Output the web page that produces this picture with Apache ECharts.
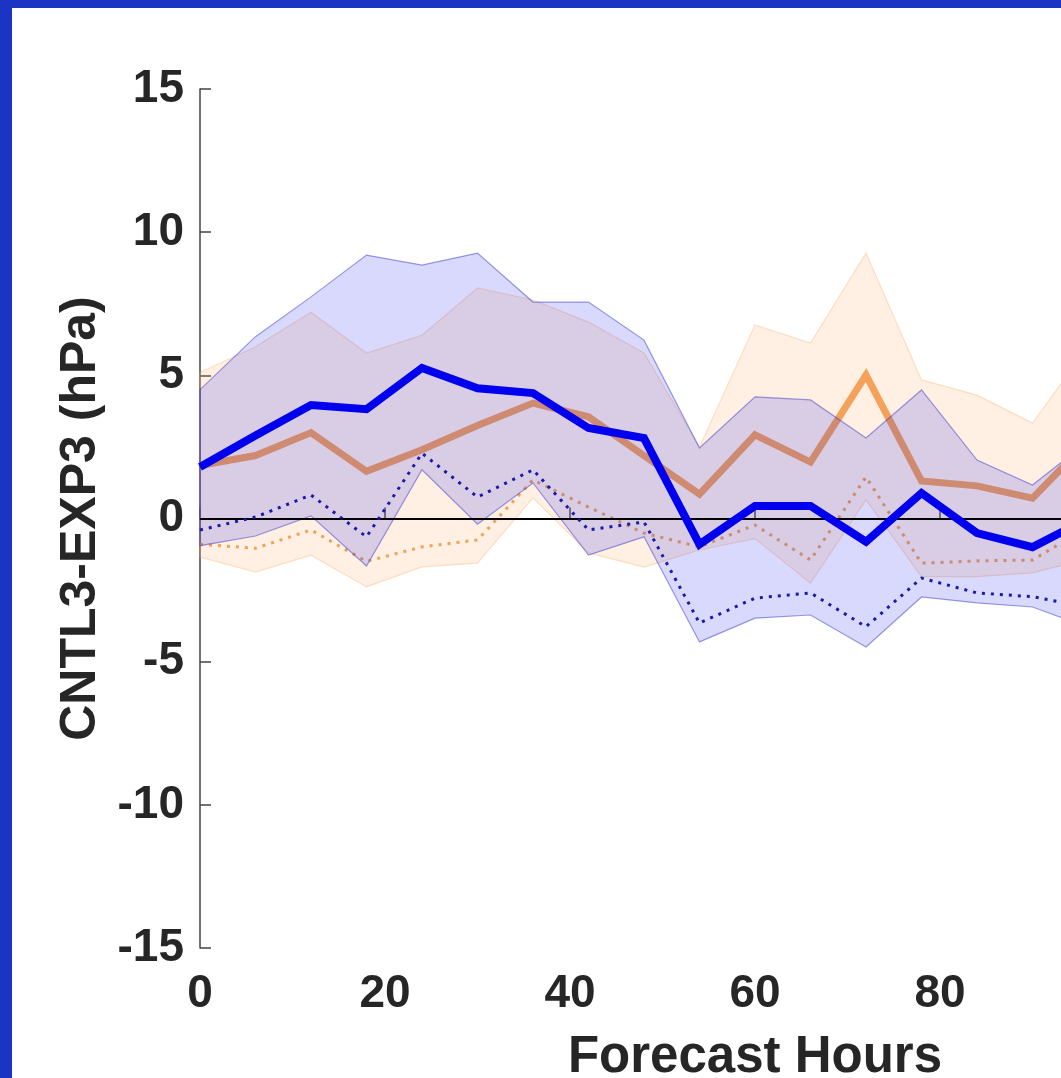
<!DOCTYPE html>
<html>
<head>
<meta charset="utf-8">
<script src="https://cdn.jsdelivr.net/npm/echarts@6/dist/echarts.min.js"></script>
<style>
  html, body { margin: 0; padding: 0; width: 1061px; height: 1078px; overflow: hidden; background: #1b34c4; }
  #chart { position: absolute; left: 12px; top: 8px; width: 1340px; height: 1070px; background: #ffffff; }
</style>
</head>
<body>
<div id="chart"></div>
<script>
// Forecast hours (x)
const hours = [0, 6, 12, 18, 24, 30, 36, 42, 48, 54, 60, 66, 72, 78, 84, 90, 96];
// Blue experiment: mean (thick), dotted line, shaded range
const blueMean   = [1.8, 2.9, 3.96, 3.82, 5.26, 4.55, 4.38, 3.16, 2.81, -0.9, 0.44, 0.44, -0.81, 0.89, -0.51, -1.0, 0.0];
const blueDotted = [-0.4, 0.05, 0.82, -0.64, 2.28, 0.75, 1.7, -0.4, -0.12, -3.65, -2.78, -2.6, -3.78, -2.08, -2.6, -2.73, -3.1];
const blueHi     = [4.5, 6.35, 7.74, 9.2, 8.85, 9.27, 7.56, 7.56, 6.23, 2.46, 4.25, 4.14, 2.81, 4.49, 2.04, 1.17, 2.7];
const blueLo     = [-0.95, -0.61, 0.09, -1.66, 1.7, -0.2, 1.24, -1.28, -0.64, -4.31, -3.48, -3.37, -4.49, -2.74, -2.95, -3.09, -3.8];
// Orange experiment: mean (thick), dotted line, shaded range
const orangeMean   = [1.85, 2.2, 3.0, 1.65, 2.4, 3.25, 4.03, 3.55, 2.2, 0.85, 2.92, 1.97, 5.01, 1.31, 1.14, 0.71, 2.7];
const orangeDotted = [-0.9, -1.04, -0.4, -1.5, -0.99, -0.75, 1.35, 0.4, -0.51, -0.99, -0.23, -1.45, 1.45, -1.56, -1.48, -1.45, -0.3];
const orangeHi     = [5.1, 6.0, 7.2, 5.78, 6.4, 8.05, 7.63, 6.86, 5.78, 2.5, 6.76, 6.13, 9.27, 4.84, 4.31, 3.33, 6.0];
const orangeLo     = [-1.35, -1.87, -1.28, -2.39, -1.69, -1.56, 0.72, -1.2, -1.7, -1.1, -0.7, -2.26, 0.65, -2.03, -2.03, -1.9, -1.4];
// Axis ticks
const xTicks = { min: 0, max: 120, interval: 20 };
const yTicks = { min: -15, max: 15, interval: 5 };

const FONT = "'Liberation Sans', Arial, Helvetica, sans-serif";

function band(lo, hi, fill, stroke, z) {
  return {
    type: 'custom',
    silent: true,
    z: z,
    data: hours.map((h, i) => [h, lo[i], hi[i]]),
    encode: { x: 0, y: [1, 2] },
    renderItem: function (params, api) {
      if (params.dataIndex !== 0) return null;
      const top = hours.map((h, i) => api.coord([h, hi[i]]));
      const bot = hours.map((h, i) => api.coord([h, lo[i]])).reverse();
      return {
        type: 'polygon',
        shape: { points: top.concat(bot) },
        style: { fill: fill, stroke: stroke, lineWidth: 1.2 }
      };
    }
  };
}

function line(vals, color, width, type, z) {
  return {
    type: 'line',
    silent: true,
    z: z,
    symbol: 'none',
    data: hours.map((h, i) => [h, vals[i]]),
    lineStyle: { color: color, width: width, type: type || 'solid', cap: 'butt', join: 'miter' }
  };
}

const chart = echarts.init(document.getElementById('chart'), null, { renderer: 'canvas' });
chart.setOption({
  animation: false,
  backgroundColor: '#ffffff',
  grid: { left: 188, top: 81, width: 1110, height: 859, containLabel: false, outerBoundsMode: 'none' },
  xAxis: {
    type: 'value',
    min: xTicks.min, max: xTicks.max, interval: xTicks.interval,
    name: 'Forecast Hours',
    nameLocation: 'middle',
    nameGap: 84,
    nameTextStyle: { fontFamily: FONT, fontWeight: 'bold', fontSize: 51, color: '#262626' },
    axisLine: { show: true, lineStyle: { color: '#444444', width: 1.5 } },
    axisTick: { show: true, inside: true, length: 11, lineStyle: { color: '#444444', width: 1.5 } },
    axisLabel: { margin: 23, fontFamily: FONT, fontWeight: 'bold', fontSize: 46, color: '#262626' },
    splitLine: { show: false }
  },
  yAxis: {
    type: 'value',
    min: yTicks.min, max: yTicks.max, interval: yTicks.interval,
    name: 'CNTL3-EXP3 (hPa)',
    nameLocation: 'middle',
    nameRotate: 90,
    nameGap: 92,
    nameTextStyle: { fontFamily: FONT, fontWeight: 'bold', fontSize: 50, color: '#262626' },
    axisLine: { show: true, lineStyle: { color: '#444444', width: 1.5 } },
    axisTick: { show: true, inside: true, length: 11, lineStyle: { color: '#444444', width: 1.5 } },
    axisLabel: { margin: 16, fontFamily: FONT, fontWeight: 'bold', fontSize: 46, color: '#262626' },
    splitLine: { show: false }
  },
  series: [
    band(orangeLo, orangeHi, 'rgba(255,168,90,0.17)', 'rgba(250,175,110,0.35)', 1),
    line(orangeMean, '#f4a25a', 7, 'solid', 2),
    line(orangeDotted, '#f0a258', 3, [3, 6], 2),
    band(blueLo, blueHi, 'rgba(20,20,240,0.16)', 'rgba(40,40,200,0.45)', 3),
    {
      type: 'line', silent: true, data: [], z: 4,
      markLine: {
        silent: true, symbol: 'none', label: { show: false }, z: 4,
        lineStyle: { color: '#000000', width: 2, type: 'solid' },
        data: [{ yAxis: 0 }]
      }
    },
    line(blueDotted, '#1a1aa8', 3, [3, 6], 5),
    line(blueMean, '#0000ee', 8, 'solid', 6)
  ]
});
</script>
</body>
</html>
